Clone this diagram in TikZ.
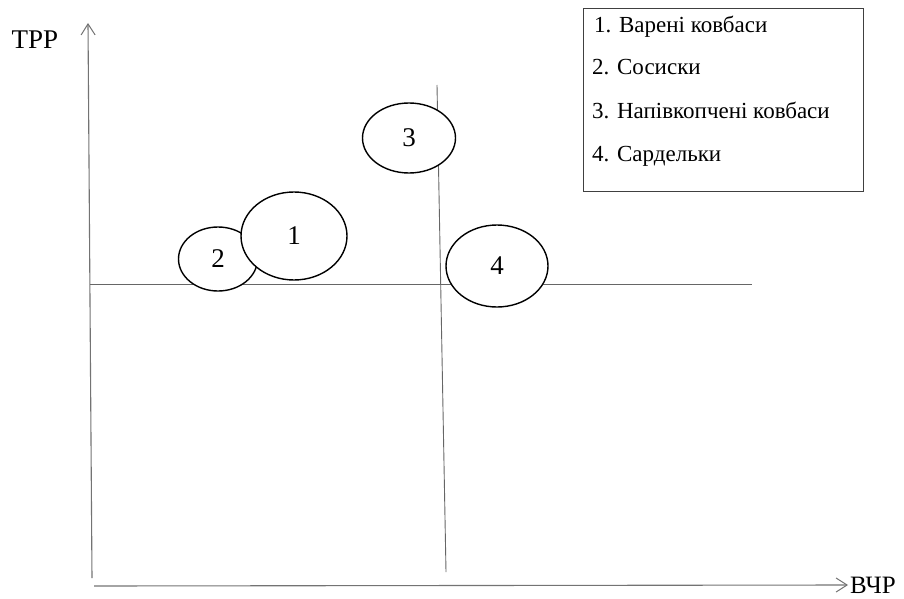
\documentclass[tikz,border=0pt]{standalone}
\usepackage{fontspec}
\setmainfont{Liberation Serif}
\usetikzlibrary{shapes.geometric,arrows.meta}

\begin{document}
\begin{tikzpicture}[x=1pt,y=-1pt,
    axis/.style={draw=black!55,line width=1.1pt,-{Straight Barb[length=11pt,width=14pt,line width=1pt]}},
    cut/.style={draw=black!60,line width=0.9pt},
    blob/.style={ellipse,draw=black,line width=1.4pt,fill=white,inner sep=0pt,font=\fontsize{27}{30}\selectfont},
    item/.style={anchor=base west,inner sep=0pt,font=\fontsize{23}{26}\selectfont}]
    \useasboundingbox (0,0) rectangle (904,599);

    % axes
    \coordinate (o1) at (92,578);
    \coordinate (ytop) at (88,23);
    \coordinate (o2) at (94,586);
    \coordinate (xend) at (848,585);
    \draw[axis] (o1)--(ytop);
    \draw[axis] (o2)--(xend);
    \node (ylab) at (35,40) {\fontsize{27}{30}\selectfont ТРР};
    \node[anchor=base west,inner sep=0pt] (xlab) at (850,593) {\fontsize{25}{28}\selectfont ВЧР};

    % quadrant lines
    \coordinate (hl) at (90,284);
    \coordinate (hr) at (752,284);
    \coordinate (vt) at (437,85);
    \coordinate (vb) at (446,572);
    \draw[cut] (hl)--(hr);
    \draw[cut] (vt)--(vb);

    % groups
    \node[blob,minimum width=79,minimum height=64] (g2) at (218,259) {2};
    \node[blob,minimum width=106,minimum height=88] (g1) at (294,236) {1};
    \node[blob,minimum width=93,minimum height=70] (g3) at (409,138) {3};
    \node[blob,minimum width=102,minimum height=82] (g4) at (497,266) {4};

    % legend
    \node[draw=black!75,line width=1pt,minimum width=280,minimum height=182,inner sep=0pt] (legend) at (723,100) {};
    \node[item] (l1) at (594,33) {1. Варені ковбаси};
    \node[item] (l2) at (592,75) {2. Сосиски};
    \node[item] (l3) at (592,119) {3. Напівкопчені ковбаси};
    \node[item] (l4) at (592,161) {4. Сардельки};
\end{tikzpicture}
\end{document}
